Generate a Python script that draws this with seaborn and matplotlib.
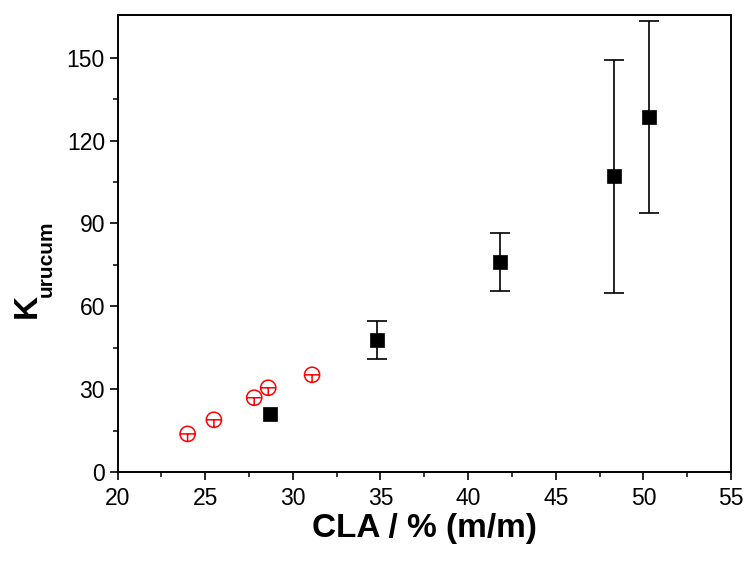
import numpy as np
import pandas as pd
import matplotlib
matplotlib.use("Agg")
import matplotlib.pyplot as plt
from matplotlib.path import Path
import seaborn as sns

# Data
cla_red = [24.0, 25.5, 27.8, 28.6, 31.1]
k_red = [13.8, 18.9, 26.9, 30.5, 35.2]

cla_black = [28.7, 34.8, 41.8, 48.3, 50.3]
k_black = [21.1, 47.9, 75.9, 107.1, 128.5]
k_black_err = [np.nan, 6.8, 10.5, 42.1, 34.7]

x_ticks = [20, 25, 30, 35, 40, 45, 50, 55]
y_ticks = [0, 30, 60, 90, 120, 150]

sns.set_theme(style="ticks")
plt.rcParams['font.family'] = ['Liberation Sans', 'DejaVu Sans']
plt.rcParams['text.color'] = 'black'
plt.rcParams['axes.labelcolor'] = 'black'

W, H = 745, 563
fig = plt.figure(figsize=(W / 100, H / 100), dpi=100)
ax = fig.add_axes([117.5 / W, (H - 472) / H, (731 - 117.5) / W, (472 - 15) / H])

df_red = pd.DataFrame({"x": cla_red, "y": k_red})
df_black = pd.DataFrame({"x": cla_black, "y": k_black, "e": k_black_err})

# error bars for black squares
ax.errorbar(df_black["x"], df_black["y"], yerr=df_black["e"], fmt="none",
            ecolor="black", elinewidth=1.2, capsize=7.5, capthick=1.2, zorder=2)

sns.scatterplot(data=df_black, x="x", y="y", marker="s", s=100, color="black",
                edgecolor="black", linewidth=0.5, ax=ax, zorder=3)

# circle with inner "T" (error-bar style) marker
circ_marker = Path.make_compound_path(
    Path.unit_circle(),
    Path([(-1, 0), (1, 0)], [Path.MOVETO, Path.LINETO]),
    Path([(0, 0), (0, -1)], [Path.MOVETO, Path.LINETO]),
)
sns.scatterplot(data=df_red, x="x", y="y", marker=circ_marker, s=120,
                facecolor="none", edgecolor="red", linewidth=1.1, ax=ax, zorder=3)

ax.set_xlim(20, 55)
ax.set_ylim(0, 165.5)
ax.set_xticks(x_ticks)
ax.set_yticks(y_ticks)
ax.set_xticks(np.arange(22.5, 55, 5), minor=True)
ax.set_yticks(np.arange(15, 165, 30), minor=True)

ax.tick_params(axis="both", which="major", direction="out", length=6, width=1.2,
               labelsize=16.5, colors="black", top=False, right=False)
ax.tick_params(axis="both", which="minor", direction="out", length=3.5, width=1.1,
               colors="black", top=False, right=False)
ax.tick_params(axis="x", which="major", pad=5)
ax.tick_params(axis="y", which="major", pad=3)

for sp in ax.spines.values():
    sp.set_visible(True)
    sp.set_linewidth(1.4)
    sp.set_color("black")

ax.set_xlabel("CLA / % (m/m)", fontsize=24, fontweight="bold", labelpad=2)
ax.set_ylabel("")

# y label: "K" with subscript "urucum"
fig.text(36 / W, 1 - 318 / H, "K", rotation=90, rotation_mode="anchor",
         ha="left", va="baseline", fontsize=24, fontweight="bold")
fig.text(52 / W, 1 - 297 / H, "urucum", rotation=90, rotation_mode="anchor",
         ha="left", va="baseline", fontsize=15, fontweight="bold")

fig.savefig("out.png", dpi=100)
